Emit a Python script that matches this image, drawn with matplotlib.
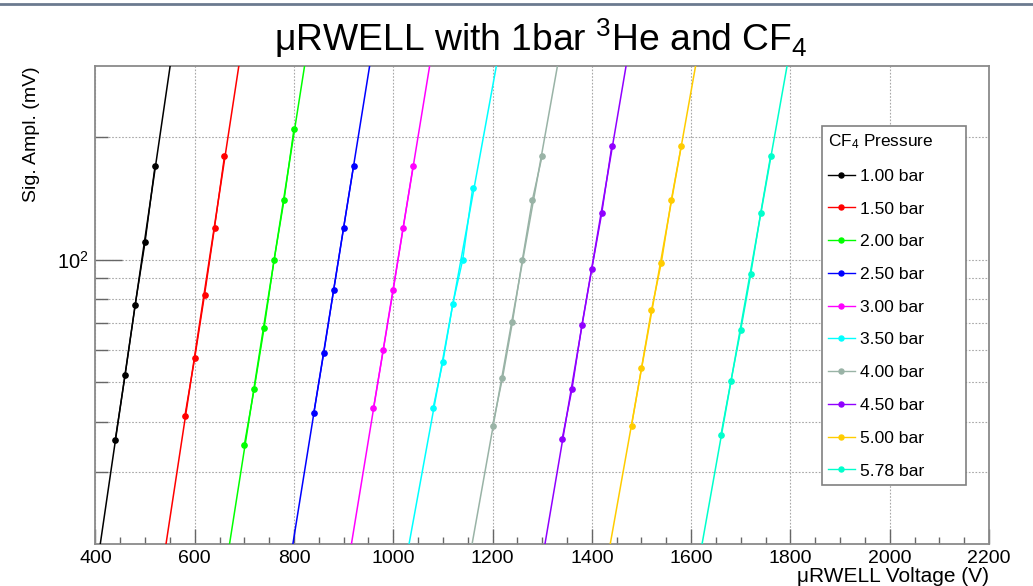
import numpy as np
import matplotlib
matplotlib.use("Agg")
import matplotlib.pyplot as plt
from matplotlib.lines import Line2D
from matplotlib.ticker import FixedLocator, FixedFormatter, NullFormatter

plt.rcParams["font.family"] = ["Liberation Sans", "DejaVu Sans"]
plt.rcParams["mathtext.fontset"] = "custom"
plt.rcParams["mathtext.rm"] = "Liberation Sans"
plt.rcParams["mathtext.it"] = "Liberation Sans:italic"
plt.rcParams["mathtext.bf"] = "Liberation Sans:bold"

# CF4 pressure settings and their colours
pressure_labels = ["1.00 bar", "1.50 bar", "2.00 bar", "2.50 bar", "3.00 bar",
                   "3.50 bar", "4.00 bar", "4.50 bar", "5.00 bar", "5.78 bar"]
pressure_colors = ["#000000", "#ff0000", "#00ff00", "#0000ff", "#ff00ff",
                   "#00ffff", "#99b3a6", "#9000ff", "#ffcc00", "#00ffcc"]

# uRWELL voltage (V) and signal amplitude (mV) per pressure
volt_100 = [440, 460, 480, 500, 520]
ampl_100 = [36.1, 52.2, 77.3, 110.3, 169.9]
volt_150 = [580, 600, 620, 640, 660]
ampl_150 = [41.2, 57.2, 82.1, 120.0, 180.1]
volt_200 = [700, 720, 740, 760, 780, 800]
ampl_200 = [35.1, 48.2, 68.1, 100.0, 140.1, 210.2]
volt_250 = [840, 860, 880, 900, 920]
ampl_250 = [42.1, 59.0, 84.4, 120.0, 170.0]
volt_300 = [960, 980, 1000, 1020, 1040]
ampl_300 = [43.1, 60.1, 84.4, 120.0, 170.0]
volt_350 = [1080, 1100, 1120, 1140, 1160]
ampl_350 = [43.1, 56.1, 78.0, 100.0, 150.4]
volt_400 = [1200, 1220, 1240, 1260, 1280, 1300]
ampl_400 = [39.1, 51.1, 70.1, 100.0, 140.1, 180.1]
volt_450 = [1340, 1360, 1380, 1400, 1420, 1440]
ampl_450 = [36.2, 48.0, 69.2, 95.0, 130.1, 190.0]
volt_500 = [1480, 1500, 1520, 1540, 1560, 1580]
ampl_500 = [39.1, 54.2, 75.1, 98.3, 140.1, 190.0]
volt_578 = [1660, 1680, 1700, 1720, 1740, 1760]
ampl_578 = [37.1, 50.2, 67.2, 92.0, 130.1, 180.0]

x_ticks = [400, 600, 800, 1000, 1200, 1400, 1600, 1800, 2000, 2200]
y_major = [100]
y_major_labels = [r"10$^{2}$"]
y_minor = [30, 40, 50, 60, 70, 80, 90, 200]

series = [
    (volt_100, ampl_100), (volt_150, ampl_150), (volt_200, ampl_200),
    (volt_250, ampl_250), (volt_300, ampl_300), (volt_350, ampl_350),
    (volt_400, ampl_400), (volt_450, ampl_450), (volt_500, ampl_500),
    (volt_578, ampl_578),
]

W, H = 1033, 586
fig = plt.figure(figsize=(W / 100, H / 100), dpi=100)
fig.patch.set_facecolor("white")

left, right, bottom, top = 95.4 / W, 989 / W, 1 - 544 / H, 1 - 65.7 / H
ax = fig.add_axes([left, bottom, right - left, top - bottom])
ax.set_yscale("log")
ax.set_xlim(400, 2200)
ax.set_ylim(20, 300)

# exponential gain fits, drawn across the whole voltage range
v_fit = np.linspace(380, 2220, 800)
for (v, a), col in zip(series, pressure_colors):
    v = np.asarray(v, float)
    a = np.asarray(a, float)
    slope, icpt = np.polyfit(v, np.log(a), 1)
    ax.plot(v_fit, np.exp(icpt + slope * v_fit), color=col, lw=1.1, zorder=3)
    ax.plot(v, a, color=col, lw=1.0, marker="o", markersize=3.8, zorder=4)

# axis styling
for s in ["left", "bottom", "right", "top"]:
    ax.spines[s].set_color("#8a8a8a")
    ax.spines[s].set_linewidth(1.3)

ax.xaxis.set_major_locator(FixedLocator(x_ticks))
ax.xaxis.set_minor_locator(FixedLocator(np.arange(400, 2201, 50)))
ax.yaxis.set_major_locator(FixedLocator(y_major))
ax.yaxis.set_major_formatter(FixedFormatter(y_major_labels))
ax.yaxis.set_minor_locator(FixedLocator(y_minor))
ax.yaxis.set_minor_formatter(NullFormatter())

ax.tick_params(axis="x", which="major", direction="in", length=10.8, width=1.0,
               color="#666666", labelsize=14, pad=4)
ax.tick_params(axis="x", which="minor", direction="in", length=5.0, width=1.0,
               color="#666666")
ax.tick_params(axis="y", which="major", direction="in", length=19.4, width=1.0,
               color="#666666", labelsize=14.5, pad=5)
ax.tick_params(axis="y", which="minor", direction="in", length=9.4, width=1.0,
               color="#666666")

ax.grid(True, which="major", axis="x", color="#a8a8a8", linestyle=(0, (1.5, 1.5)), lw=0.8)
ax.grid(True, which="both", axis="y", color="#a8a8a8", linestyle=(0, (1.5, 1.5)), lw=0.8)
ax.set_axisbelow(True)

# titles
fig.text(541 / W, 1 - 38 / H, "μRWELL with 1bar $^{3}$He and CF$_{4}$",
         ha="center", va="center", fontsize=26.8)
fig.text(989 / W, 1 - 577 / H, "μRWELL Voltage (V)", ha="right", va="center",
         fontsize=15)
fig.text(32 / W, 1 - 66 / H, "Sig. Ampl. (mV)", ha="center", va="top",
         rotation=90, fontsize=14)

# legend
handles = [Line2D([], [], color=c, lw=1.0, marker="o", markersize=3.6)
           for c in pressure_colors]
leg_x0, leg_x1, leg_y0, leg_y1 = 822 / W, 966 / W, 1 - 485 / H, 1 - 126 / H
leg = ax.legend(handles, pressure_labels, title="CF$_{4}$ Pressure",
                loc="upper left", mode="expand",
                bbox_to_anchor=(leg_x0, leg_y0, leg_x1 - leg_x0, leg_y1 - leg_y0),
                bbox_transform=fig.transFigure, borderaxespad=0, frameon=True,
                fancybox=False, framealpha=1, edgecolor="#808080", fontsize=12.6,
                title_fontsize=12.4, handlelength=1.5, handletextpad=0.3,
                labelspacing=1.0, borderpad=0.36, alignment="left")
leg.get_frame().set_linewidth(1.2)

# canvas edge
fig.add_artist(Line2D([0, 1], [1 - 4 / H, 1 - 4 / H], transform=fig.transFigure,
                      color="#6b7a8f", lw=2))

fig.savefig("out.png", dpi=100)
